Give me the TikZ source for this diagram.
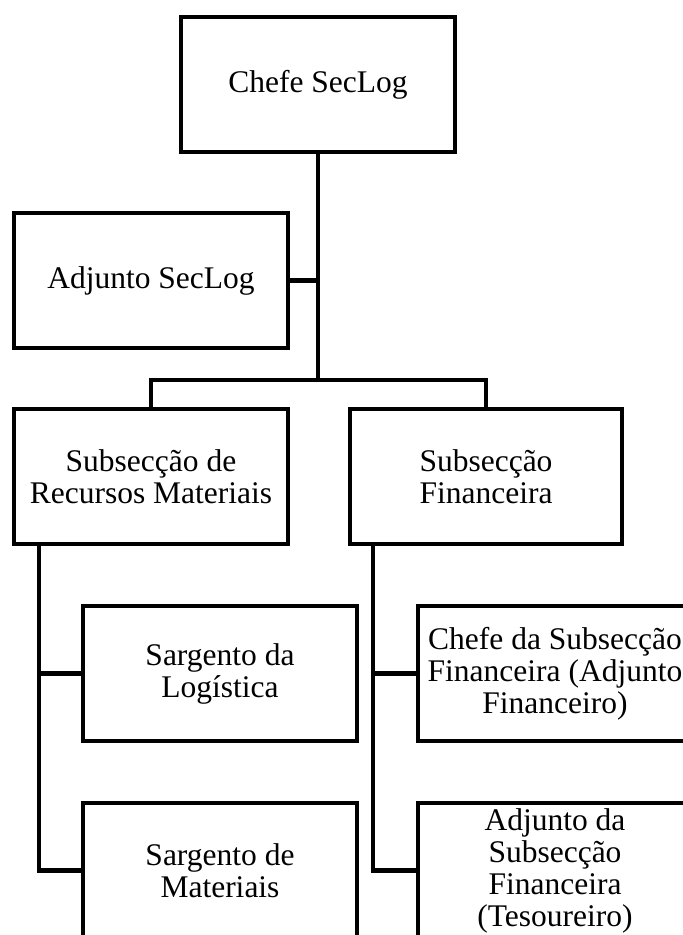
\documentclass[tikz,border=0pt]{standalone}
\usepackage{fontspec}
\setmainfont{Liberation Serif}
\usepackage{tikz}
\usetikzlibrary{positioning}
\newcommand{\unitfont}{\fontsize{31.5}{32}\selectfont}

\begin{document}
\begin{tikzpicture}[%
    x=1pt, y=1pt,               % one unit per pixel of the chart
    line join=miter,
    ]
\tikzset{
  box/.style={draw, rectangle, on grid, align=center, line width=4.2pt,
    minimum width=274pt, minimum height=135pt, inner sep=0pt, font=\unitfont},
  link/.style={draw, line width=4.2pt},
}
\useasboundingbox (0,0) rectangle (683,-935);
\clip (0,0) rectangle (683,-935);

\node [box] (chefe) at (318,-84.5) {Chefe SecLog};
\node [box,below left=196pt and 167pt of chefe] (adjunto) {Adjunto SecLog};
\node [box,below=196pt of adjunto] (subrm) {Subsecção de\\Recursos Materiais};
\node [box,right=335pt of subrm,minimum width=272pt] (subfin) {Subsecção\\Financeira};

\node [box,below right=197pt and 69pt of subrm] (sarglog) {Sargento da\\Logística};
\node [box,below=197pt of sarglog] (sargmat) {Sargento de\\Materiais};

\node [box,right=335pt of sarglog] (chefesub) {Chefe da Subsecção\\Financeira (Adjunto\\Financeiro)};
\node [box,below=197pt of chefesub] (adjsub) {Adjunto da\\Subsecção\\Financeira\\(Tesoureiro)};

% connect
\draw [link] (chefe.south) -- ++(0,-226) coordinate (split);
\draw [link] (adjunto.east) -- (adjunto.east -| chefe.south);
\draw [link] (subrm.north) |- (split) -| (subfin.north);

\draw [link] (sarglog.west) -- ++(-42,0) coordinate (spinel);
\draw [link] (subrm.south -| spinel) -- (sargmat.west -| spinel) -- (sargmat.west);

\draw [link] (chefesub.west) -- ++(-43,0) coordinate (spiner);
\draw [link] (subfin.south -| spiner) -- (adjsub.west -| spiner) -- (adjsub.west);

\end{tikzpicture}
\end{document}
